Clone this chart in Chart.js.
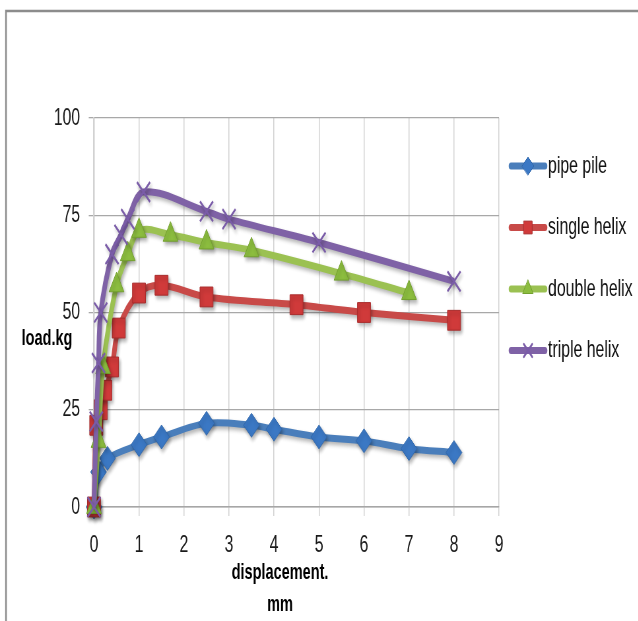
<!DOCTYPE html>
<html>
<head>
<meta charset="utf-8">
<script src="https://cdn.jsdelivr.net/npm/chart.js@4.4.0/dist/chart.umd.min.js"></script>
<style>
  html, body { margin: 0; padding: 0; background: #fff; overflow: hidden; }
  /* the chart is drawn wide and narrowed with scaleX, like the squeezed export */
  #wrap { width: 967px; height: 621px; transform: scaleX(0.66); transform-origin: 0 0; }
</style>
</head>
<body>
<div id="wrap"><canvas id="loadChart" width="967" height="621"></canvas></div>
<script>
// load (kg) against displacement (mm) for the four pile types
var SQ = 0.66; // horizontal squeeze, used to place things in screen px

var seriesNames = ["pipe pile", "single helix", "double helix", "triple helix"];

var pipeX = [0, 0.1, 0.3, 1, 1.5, 2.5, 3.5, 4, 5, 6, 7, 8];
var pipeY = [0, 9, 12.5, 16, 18, 21.5, 21, 20, 18, 17, 15, 14];

var singleX = [0, 0.05, 0.15, 0.25, 0.4, 0.55, 1, 1.5, 2.5, 4.5, 6, 8];
var singleY = [0, 21, 25, 30, 36, 46, 55, 57, 54, 52, 50, 48];

var doubleX = [0, 0.1, 0.2, 0.5, 0.75, 1, 1.7, 2.5, 3.5, 5.5, 7];
var doubleY = [0, 17, 36, 57, 65, 71, 70, 68, 66, 60, 55];

var tripleX = [0, 0.05, 0.1, 0.15, 0.4, 0.6, 0.75, 1.1, 2.5, 3, 5, 8];
var tripleY = [0, 22, 37, 50, 65, 70, 74, 81, 76, 74, 68, 58];

var xRange = [0, 9], xStep = 1;
var yRange = [0, 100], yStep = 25;

var xTitle = ["displacement.", "mm"];
var yTitle = "load.kg";

// looks
var lineColors = ["#4a7ebb", "#c84a48", "#9bc152", "#7f62a6"];
var markFill = ["#3b78c4", "#d03a3a", "#8cbd3f", "#7a5ca8"];
var markEdge = ["#2f66aa", "#a92c2c", "#73a02f", "#7a5ca8"];
var markStyle = ["rectRot", "rect", "triangle", "crossRot"];
var markSize = [12, 14, 13, 14];
var markLine = [1, 1, 1, 2.5];

var FONT = '"Liberation Sans", Arial, sans-serif';

function toPoints(xs, ys) {
  return xs.map(function (x, i) { return { x: x, y: ys[i] }; });
}

var allX = [pipeX, singleX, doubleX, tripleX];
var allY = [pipeY, singleY, doubleY, tripleY];

var datasets = [];
for (var i = 0; i < seriesNames.length; i++) {
  datasets.push({
    label: seriesNames[i],
    data: toPoints(allX[i], allY[i]),
    borderColor: lineColors[i],
    borderWidth: 7,
    pointStyle: markStyle[i],
    pointRadius: markSize[i],
    pointBackgroundColor: markFill[i],
    pointBorderColor: markEdge[i],
    pointBorderWidth: markLine[i],
    tension: 0.35,
    clip: false,
    order: seriesNames.length - 1 - i   // later series sit on top
  });
}

// soft drop shadow under the series
var shadow = {
  id: 'shadow',
  beforeDatasetsDraw: function (chart) {
    var c = chart.ctx;
    c.save();
    c.shadowColor = 'rgba(0,0,0,0.3)';
    c.shadowBlur = 4;
    c.shadowOffsetX = 2;
    c.shadowOffsetY = 3;
  },
  afterDatasetsDraw: function (chart) {
    chart.ctx.restore();
  }
};

// outer frame, axis titles and the legend on the right
var decorations = {
  id: 'decorations',
  beforeDraw: function (chart) {
    var c = chart.ctx;
    c.save();
    c.strokeStyle = '#8c8c8c';
    c.lineWidth = 2.5;
    c.beginPath();
    c.moveTo(6 / SQ, chart.height);
    c.lineTo(6 / SQ, 11);
    c.lineTo(chart.width, 11);
    c.stroke();
    c.restore();
  },
  afterDraw: function (chart) {
    var c = chart.ctx;
    c.save();
    c.fillStyle = '#000';
    c.font = 'bold 22px ' + FONT;
    c.textAlign = 'center';
    c.textBaseline = 'middle';
    c.fillText(yTitle, 47 / SQ, 339);
    c.fillText(xTitle[0], 280 / SQ, 573);
    c.fillText(xTitle[1], 280 / SQ, 605);

    var x0 = 511 / SQ, x1 = 545 / SQ, tx = 548 / SQ;
    chart.data.datasets.forEach(function (ds, k) {
      var y = 166 + k * 61.5;
      c.save();
      c.strokeStyle = ds.borderColor;
      c.lineWidth = 7;
      c.lineCap = 'round';
      c.beginPath();
      c.moveTo(x0, y);
      c.lineTo(x1, y);
      c.stroke();
      c.fillStyle = ds.pointBackgroundColor;
      c.strokeStyle = ds.pointBorderColor;
      c.lineWidth = ds.pointBorderWidth;
      Chart.helpers.drawPoint(c, {
        pointStyle: ds.pointStyle, radius: 9, rotation: 0, borderWidth: ds.pointBorderWidth
      }, (x0 + x1) / 2, y);
      c.fillStyle = '#111';
      c.font = '24px ' + FONT;
      c.textAlign = 'left';
      c.textBaseline = 'middle';
      c.fillText(ds.label, tx, y);
      c.restore();
    });
    c.restore();
  }
};

var ctx = document.getElementById('loadChart').getContext('2d');
var loadChart = new Chart(ctx, {
  type: 'line',
  data: { datasets: datasets },
  options: {
    responsive: false,
    animation: false,
    devicePixelRatio: 1,
    layout: { padding: { top: 118, right: 967 - 499 / SQ, left: 0, bottom: 0 } },
    plugins: {
      legend: { display: false },
      tooltip: { enabled: false }
    },
    scales: {
      x: {
        type: 'linear',
        min: xRange[0],
        max: xRange[1],
        ticks: {
          stepSize: xStep,
          color: '#1a1a1a',
          font: { family: FONT, size: 24 },
          padding: 15,
          maxRotation: 0
        },
        grid: { color: '#d2d2d2', lineWidth: 1.5, tickLength: 9 },
        border: { color: '#a6a6a6', width: 1.5 },
        afterFit: function (s) { s.height = 621 - 507; }
      },
      y: {
        min: yRange[0],
        max: yRange[1],
        ticks: {
          stepSize: yStep,
          color: '#1a1a1a',
          font: { family: FONT, size: 24 },
          padding: 13
        },
        grid: { color: '#a8a8a8', lineWidth: 1.3, tickLength: 8 },
        border: { color: '#d2d2d2', width: 2 },
        afterFit: function (s) { s.width = 94 / SQ; }
      }
    }
  },
  plugins: [shadow, decorations]
});
</script>
</body>
</html>
